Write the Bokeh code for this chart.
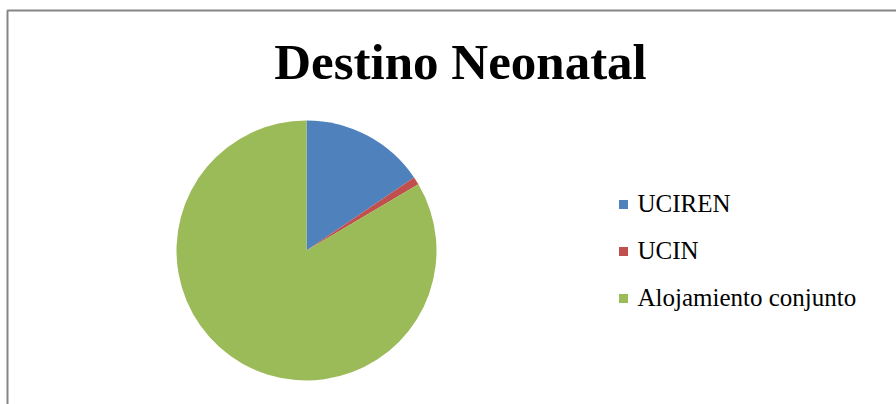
import numpy as np
from bokeh.plotting import figure
from bokeh.models import Range1d, ColumnDataSource, BoxAnnotation
from bokeh.core.properties import value
from bokeh.embed import file_html
from bokeh.resources import INLINE

# ---- data ----
title_text = "Destino Neonatal"
categories = ["UCIREN", "UCIN", "Alojamiento conjunto"]
percentages = [15.5, 1.0, 83.5]
colors = ["#4F81BD", "#C0504D", "#9BBB59"]

W, H = 896, 404
p = figure(width=W, height=H, x_range=Range1d(0, W), y_range=Range1d(0, H),
           output_backend="svg", toolbar_location=None, min_border=0,
           background_fill_color="white", border_fill_color="white")
p.axis.visible = False
p.grid.visible = False
p.outline_line_color = None

# outer frame
p.add_layout(BoxAnnotation(left=7, right=W + 50, bottom=-50, top=H - 10,
                           fill_alpha=0, line_color="#868686", line_alpha=1.0,
                           line_width=2))

# pie
vals = np.array(percentages, dtype=float)
frac = vals / vals.sum()
cum = np.concatenate([[0], np.cumsum(frac)])
start = np.pi / 2 - cum[:-1] * 2 * np.pi
end = np.pi / 2 - cum[1:] * 2 * np.pi
cx, cy, r = 306, H - 250, 130
src = ColumnDataSource(dict(start=start, end=end, color=colors, cat=categories))
p.wedge(x=cx, y=cy, radius=r, start_angle="start", end_angle="end",
        direction="clock", fill_color="color", line_color=None, source=src)

# title
p.text(x=[460], y=[H - 61], text=[title_text], text_font=value("Liberation Serif"),
       text_font_style="bold", text_font_size="51px", text_color="black",
       text_align="center", text_baseline="middle")

# legend
mid0, step = 203, 47
ly = [H - (mid0 + i * step) for i in range(len(categories))]
p.rect(x=[623] * len(categories), y=[v - 1 for v in ly], width=9, height=9,
       fill_color=colors, line_color=None)
p.text(x=[637] * len(categories), y=ly, text=categories,
       text_font=value("Liberation Serif"), text_font_size="25px",
       text_color="black", text_align="left", text_baseline="middle")

open("out.html", "w").write(file_html(p, INLINE))
